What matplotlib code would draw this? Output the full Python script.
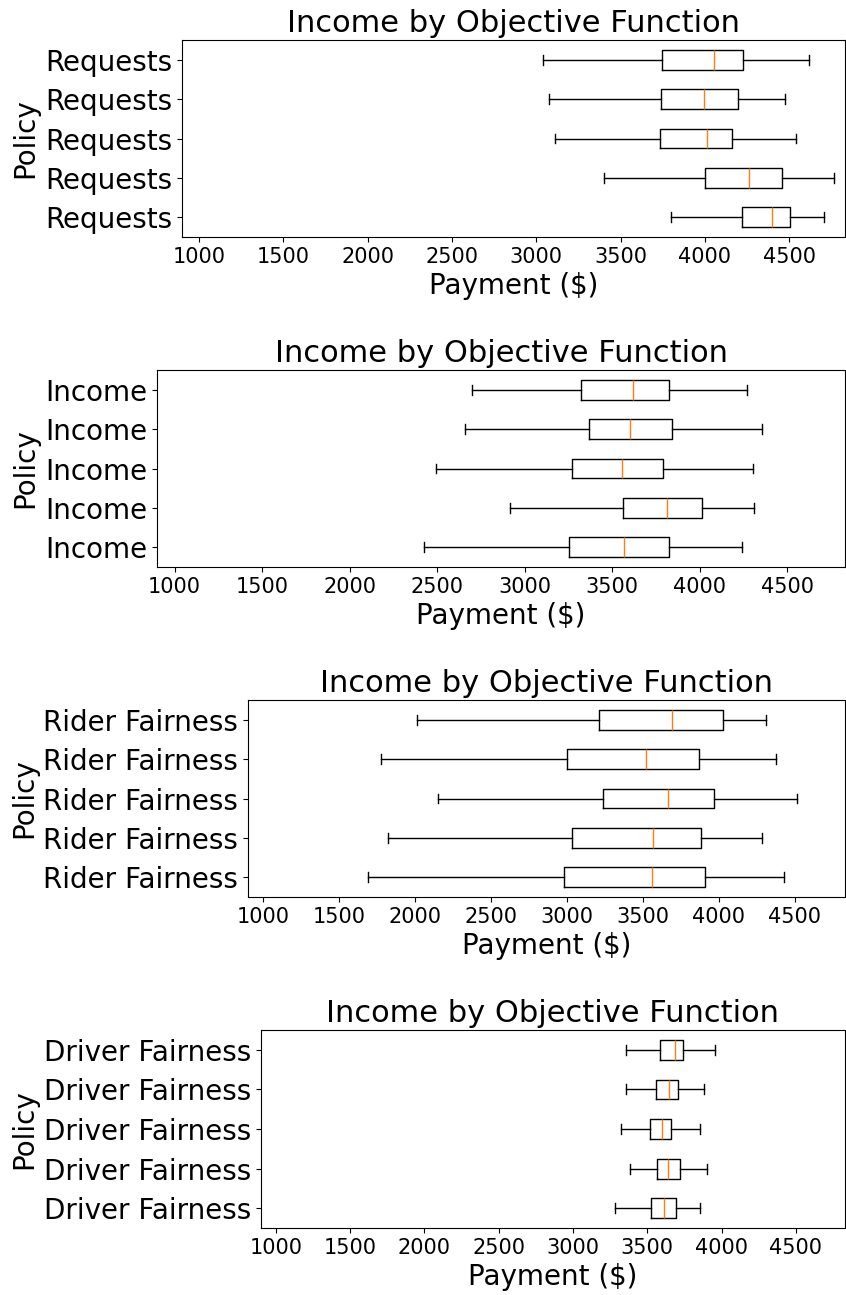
import matplotlib
matplotlib.use("Agg")
import matplotlib.pyplot as plt

policies = ["Requests", "Income", "Rider Fairness", "Driver Fairness"]

# five-number summaries per run, listed bottom box first
requests_low = [3798, 3403, 3111, 3075, 3039]
requests_q1 = [4218, 4000, 3736, 3741, 3747]
requests_med = [4395, 4259, 4013, 3995, 4051]
requests_q3 = [4505, 4456, 4159, 4195, 4226]
requests_high = [4705, 4764, 4541, 4474, 4615]

income_low = [2423, 2918, 2495, 2661, 2702]
income_q1 = [3255, 3564, 3268, 3365, 3324]
income_med = [3569, 3814, 3556, 3602, 3620]
income_q3 = [3824, 4013, 3793, 3839, 3827]
income_high = [4242, 4311, 4304, 4355, 4273]

rider_low = [1691, 1821, 2148, 1776, 2015]
rider_q1 = [2982, 3033, 3240, 3003, 3209]
rider_med = [3561, 3564, 3668, 3518, 3689]
rider_q3 = [3908, 3885, 3967, 3867, 4025]
rider_high = [4429, 4281, 4515, 4375, 4311]

driver_low = [3282, 3382, 3323, 3353, 3353]
driver_q1 = [3525, 3566, 3520, 3561, 3584]
driver_med = [3612, 3637, 3596, 3643, 3684]
driver_q3 = [3694, 3722, 3658, 3707, 3742]
driver_high = [3852, 3898, 3852, 3878, 3952]

summaries = [
    (requests_low, requests_q1, requests_med, requests_q3, requests_high),
    (income_low, income_q1, income_med, income_q3, income_high),
    (rider_low, rider_q1, rider_med, rider_q3, rider_high),
    (driver_low, driver_q1, driver_med, driver_q3, driver_high),
]

W, H = 846, 1295
fig = plt.figure(figsize=(W / 100, H / 100), dpi=100)

# axes boxes in pixels: left, top, bottom
boxes = [(182, 40, 237), (157, 370, 567), (248, 700, 897), (261, 1030, 1228)]
right = 845

for name, summ, (l, t, b) in zip(policies, summaries, boxes):
    ax = fig.add_axes([l / W, 1 - b / H, (right - l) / W, (b - t) / H])
    stats = []
    for lo, q1, med, q3, hi in zip(*summ):
        stats.append(dict(whislo=lo, q1=q1, med=med, q3=q3, whishi=hi,
                          fliers=[], label=name))
    ax.bxp(stats, vert=False, showfliers=False)
    ax.set_xlim(900, 4830)
    ax.set_title("Income by Objective Function", fontsize=22)
    ax.set_xlabel("Payment ($)", fontsize=20)
    ax.set_ylabel("Policy", fontsize=20)
    ax.tick_params(axis="y", labelsize=20)
    ax.tick_params(axis="x", labelsize=15)

fig.savefig("out.png", dpi=100)
